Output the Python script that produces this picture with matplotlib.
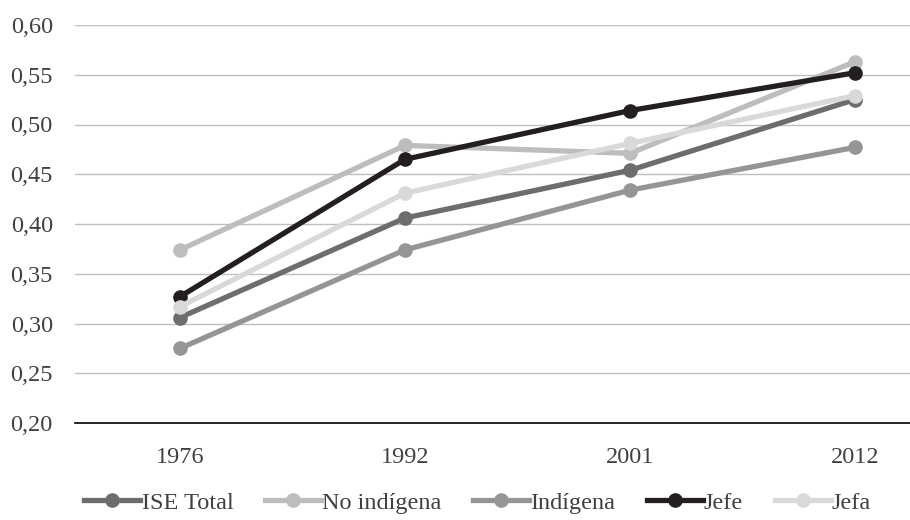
import matplotlib
matplotlib.use("Agg")
import matplotlib.pyplot as plt
from matplotlib.ticker import FuncFormatter

years = ["1976", "1992", "2001", "2012"]
ise_total = [0.306, 0.406, 0.454, 0.525]
no_indigena = [0.374, 0.479, 0.471, 0.563]
indigena = [0.275, 0.374, 0.434, 0.477]
jefe = [0.327, 0.465, 0.514, 0.552]
jefa = [0.317, 0.431, 0.481, 0.529]

series = [
    ("ISE Total", ise_total, "#6d6d6d"),
    ("No indígena", no_indigena, "#bdbdbe"),
    ("Indígena", indigena, "#959595"),
    ("Jefe", jefe, "#231f20"),
    ("Jefa", jefa, "#d9d9d9"),
]

plt.rcParams["font.family"] = ["Liberation Serif", "DejaVu Serif"]

fig = plt.figure(figsize=(9.1, 5.2), dpi=100)
ax = fig.add_axes([75 / 910, 97 / 520, 835 / 910, 398 / 520])

x = range(len(years))
for name, vals, color in series:
    ax.plot(x, vals, color=color, linewidth=3.8, marker="o", markersize=9.5,
            label=name, zorder=3)

ax.set_ylim(0.20, 0.60)
ax.set_xlim(-0.467, 3.245)
ax.set_yticks([0.20, 0.25, 0.30, 0.35, 0.40, 0.45, 0.50, 0.55, 0.60])
ax.yaxis.set_major_formatter(FuncFormatter(lambda v, p: f"{v:.2f}".replace(".", ",")))
ax.set_xticks(list(x))
ax.set_xticklabels(years)
ax.grid(axis="y", color="#bfbfbf", linewidth=1)
ax.set_axisbelow(True)
for side in ["top", "right", "left"]:
    ax.spines[side].set_visible(False)
ax.spines["bottom"].set_color("black")
ax.spines["bottom"].set_linewidth(1.2)
ax.tick_params(length=0, labelsize=17.5, labelcolor="#404040")
ax.tick_params(axis="x", pad=17)
ax.tick_params(axis="y", pad=16)

fig.legend(loc="lower center", bbox_to_anchor=(0.525, -0.03), ncol=5, frameon=False,
           fontsize=17.5, handlelength=2.3, handletextpad=0.05, columnspacing=1.3,
           labelcolor="#404040")

fig.savefig("out.png", dpi=100)
